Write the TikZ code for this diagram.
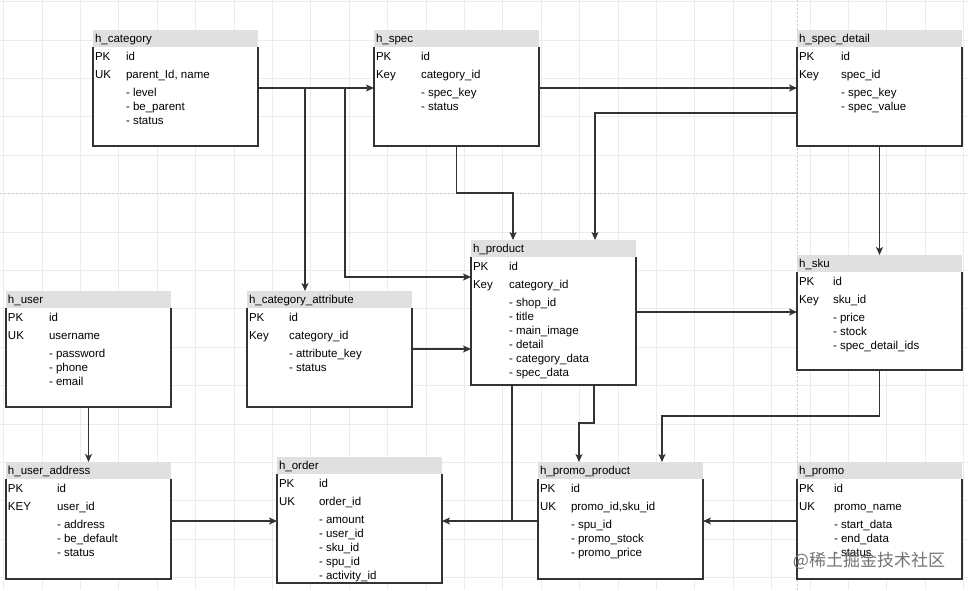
\documentclass[tikz,border=0pt]{standalone}
\usepackage{fontspec}
\setmainfont{Liberation Sans}
\newfontfamily\cjkfont{Noto Sans CJK SC}
\usetikzlibrary{calc,arrows.meta}
\definecolor{hdrgray}{HTML}{E0E0E0}
\definecolor{linec}{HTML}{333333}
\definecolor{gridc}{HTML}{ECECEC}
\tikzset{
  erbody/.style={fill=white, draw=none, anchor=north west, inner sep=0pt, outer sep=0pt, minimum width=165pt},
  hdr/.style={fill=hdrgray},
  border/.style={draw=linec, line width=1.2pt},
  txt/.style={anchor=base west, inner sep=0pt, outer sep=0pt, font=\fontsize{11.5}{13}\selectfont, text=black},
  conn/.style={draw=linec, line width=1.2pt, -{Stealth[length=8pt,width=7pt,inset=2pt]}},
  plainline/.style={draw=linec, line width=1.2pt},
  gridline/.style={draw=gridc, line width=0.6pt},
  pageline/.style={draw=black!20, line width=0.7pt, dash pattern=on 1.5pt off 2.5pt},
}
\newcommand\ertable[5]{%
  \node[erbody, minimum height=#4pt] (#1) at (#2,#3) {};
  \fill[hdr] (#1.north west) rectangle ($(#1.north east)+(0,17)$);
  \draw[border] ($(#1.north west)+(0,17)$) -- (#1.south west) -- (#1.south east) -- ($(#1.north east)+(0,17)$);
  \node[txt] (#1-t) at ($(#1.north west)+(2,12.5)$) {#5};
}
\newcommand\errows[7]{%
  \node[txt] (#1-l1) at ($(#1.north west)+(2,30)$) {#3};
  \node[txt] (#1-v1) at ($(#1.north west)+(#2,30)$) {#4};
  \node[txt] (#1-l2) at ($(#1.north west)+(2,48)$) {#5};
  \node[txt] (#1-v2) at ($(#1.north west)+(#2,48)$) {#6};
  \foreach \itm [count=\i from 0] in {#7} {
    \node[txt] (#1-i\i) at ($(#1.north west)+(#2,66+14*\i)$) {- \itm};
  }
}
\begin{document}
\begin{tikzpicture}[x=1pt,y=-1pt]
\useasboundingbox (0,0) rectangle (968,590);
\fill[white] (0,0) rectangle (968,590);
% background grid
\foreach \gx in {3.5,41.9,...,968} { \draw[gridline] (\gx,0) -- (\gx,590); }
\foreach \gy in {1.5,39.9,...,590} { \draw[gridline] (0,\gy) -- (968,\gy); }
\draw[pageline] (0,193) -- (968,193);
\draw[pageline] (797,0) -- (797,590);

% tables
\ertable{cat}{93}{30}{116}{h\_category}
\errows{cat}{33}{PK}{id}{UK}{parent\_Id, name}{level,be\_parent,status}
\ertable{spec}{374}{30}{116}{h\_spec}
\errows{spec}{47}{PK}{id}{Key}{category\_id}{spec\_key,status}
\ertable{specd}{797}{30}{116}{h\_spec\_detail}
\errows{specd}{44}{PK}{id}{Key}{spec\_id}{spec\_key,spec\_value}
\ertable{product}{471}{240}{145}{h\_product}
\errows{product}{38}{PK}{id}{Key}{category\_id}{shop\_id,title,main\_image,detail,category\_data,spec\_data}
\ertable{sku}{797}{255}{115}{h\_sku}
\errows{sku}{36}{PK}{id}{Key}{sku\_id}{price,stock,spec\_detail\_ids}
\ertable{user}{6}{291}{116}{h\_user}
\errows{user}{43}{PK}{id}{UK}{username}{password,phone,email}
\ertable{catattr}{247}{291}{116}{h\_category\_attribute}
\errows{catattr}{42}{PK}{id}{Key}{category\_id}{attribute\_key,status}
\ertable{useraddr}{6}{462}{117}{h\_user\_address}
\errows{useraddr}{51}{PK}{id}{KEY}{user\_id}{address,be\_default,status}
\ertable{order}{277}{457}{126}{h\_order}
\errows{order}{42}{PK}{id}{UK}{order\_id}{amount,user\_id,sku\_id,spu\_id,activity\_id}
\ertable{promoprod}{538}{462}{117}{h\_promo\_product}
\errows{promoprod}{33}{PK}{id}{UK}{promo\_id,sku\_id}{spu\_id,promo\_stock,promo\_price}
\ertable{promo}{797}{462}{117}{h\_promo}
\errows{promo}{37}{PK}{id}{UK}{promo\_name}{start\_data,end\_data,status}

% helper coordinates
\coordinate (r1) at (0,88);
\coordinate (b1) at (305,88);
\coordinate (b2) at (345,88);
\coordinate (r2) at (0,277);
\coordinate (c1) at (457,193);
\coordinate (c2) at (513,193);
\coordinate (d1) at (595,113);
\coordinate (e1) at (0,312);
\coordinate (f1) at (594,423);
\coordinate (f2) at (579,423);
\coordinate (g1) at (879.5,416);
\coordinate (g2) at (662,416);
\coordinate (h1) at (512,521);
\coordinate (k1) at (0,349);

% connectors
\draw[conn] (cat.east |- r1) -- (spec.west |- r1);
\draw[conn] (b1) -- (b1 |- catattr.north);
\draw[conn] (b2) -- (b2 |- r2) -- (product.west |- r2);
\draw[conn] (spec.east |- r1) -- (specd.west |- r1);
\draw[conn] (spec.south) -- (spec.south |- c1) -- (c2) -- (c2 |- product.north);
\draw[conn] (specd.west |- d1) -- (d1) -- (d1 |- product.north);
\draw[conn] (specd.south) -- (sku.north);
\draw[conn] (product.east |- e1) -- (sku.west |- e1);
\draw[conn] (f1 |- product.south) -- (f1) -- (f2) -- (f2 |- promoprod.north);
\draw[conn] (sku.south) -- (g1) -- (g2) -- (g2 |- promoprod.north);
\draw[conn] (h1 |- product.south) -- (h1) -- (order.east |- h1);
\draw[plainline] (promoprod.west |- h1) -- (h1);
\draw[conn] (promo.west |- h1) -- (promoprod.east |- h1);
\draw[conn] (useraddr.east |- h1) -- (order.west |- h1);
\draw[conn] (user.south) -- (useraddr.north);
\draw[conn] (catattr.east |- k1) -- (product.west |- k1);

% watermark
\node[inner sep=0pt, font=\cjkfont\fontsize{17}{17}\selectfont, text=black!55] (wm) at (869,561) {@稀土掘金技术社区};
\end{tikzpicture}
\end{document}
